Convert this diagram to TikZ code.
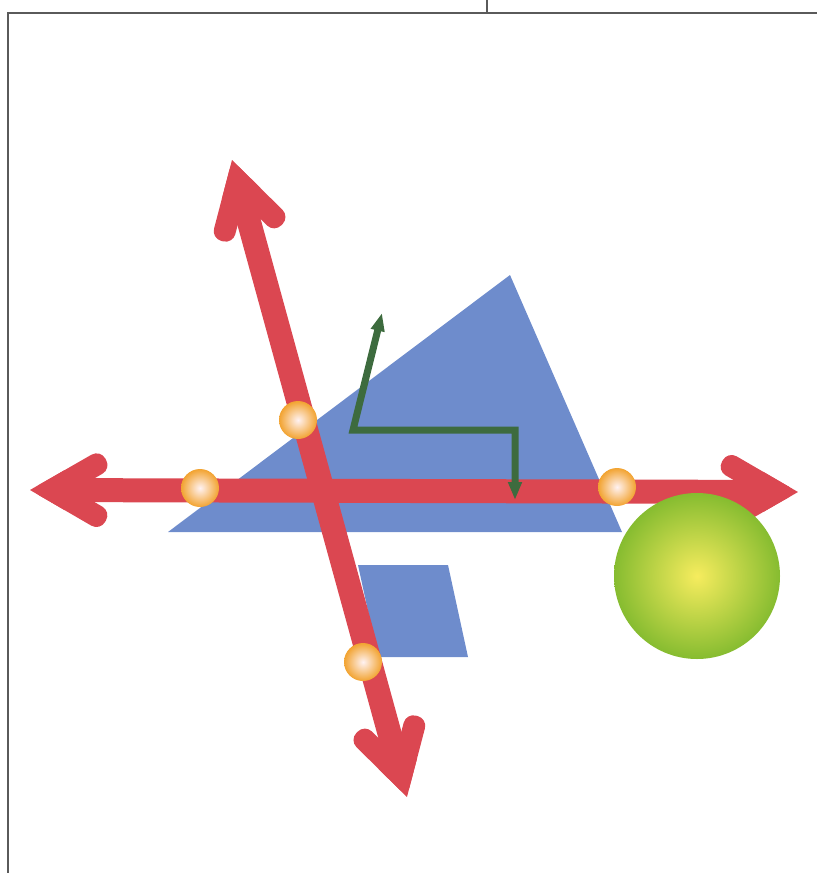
\documentclass[tikz,border=0pt]{standalone}
\usepackage{xcolor}
\usetikzlibrary{arrows.meta,calc}
\definecolor{AxisRed}{HTML}{DB4751}
\definecolor{PlaneBlue}{HTML}{6E8CCC}
\definecolor{PathGreen}{HTML}{3D6B3E}
\definecolor{BallGreen}{HTML}{86BC30}
\definecolor{BallYellow}{HTML}{F6EC5E}
\definecolor{BallOrange}{HTML}{F2A330}
\definecolor{FrameGray}{HTML}{5A5A5A}
\tikzset{
  frame/.style={draw=FrameGray,line width=2pt},
  plane/.style={fill=PlaneBlue},
  pics/axisarrow/.style={code={
    \fill[AxisRed] (40,-12) rectangle ({#1-40},12);
    % heads
    \fill[AxisRed,rounded corners=10pt] (0,0) -- (70.1,40.5) -- (81.1,21.5) -- (44,0)
      -- (81.1,-21.5) -- (70.1,-40.5) -- cycle;
    \fill[AxisRed,rounded corners=10pt] (#1,0) -- ({#1-70.1},40.5) -- ({#1-81.1},21.5) -- ({#1-44},0)
      -- ({#1-81.1},-21.5) -- ({#1-70.1},-40.5) -- cycle;
    % sharp tips
    \fill[AxisRed] (0,0) -- (34.6,20) -- (34.6,-20) -- cycle;
    \fill[AxisRed] (#1,0) -- ({#1-34.6},20) -- ({#1-34.6},-20) -- cycle;
  }},
  point/.style={circle,minimum size=38pt,inner sep=0pt,inner color=white!80!pink,outer color=BallOrange},
  sphere/.style={circle,minimum size=166pt,inner sep=0pt,inner color=BallYellow,outer color=BallGreen},
  route/.style={draw=PathGreen,line width=7pt,{Triangle[length=18pt,width=13pt]}-{Triangle[length=18pt,width=13pt]}}
}

\begin{document}
\begin{tikzpicture}[x=1pt,y=-1pt]
\useasboundingbox (0,0) rectangle (817,873);
% frame
\draw[frame] (8,873) -- (8,13) -- (817,13);
\draw[frame] (487,0) -- (487,13);

% planes
\fill[plane] (510,275) -- (622,532) -- (168,532) -- cycle;
\fill[plane] (358,565) -- (448,565) -- (468,657) -- (378,657) -- cycle;

% axes
\coordinate (ltip) at (30,490);
\coordinate (utip) at (232,160);
\pic[rotate=-0.15] at (ltip) {axisarrow=768};
\pic[rotate=-74.64] at (utip) {axisarrow=660.6};

% path
\coordinate (gtop) at (382,313);
\coordinate (gbend) at (353,430);
\coordinate (gturn) at (515,430);
\coordinate (gbot) at (515,500);
\draw[route] (gtop) -- (gbend) -- (gturn) -- (gbot);

\node[sphere] (globe) at (697,576) {};

\node[point] (p1) at (200,488) {};
\node[point] (p2) at (298,420) {};
\node[point] (p3) at (617,487) {};
\node[point] (p4) at (363,662) {};
\end{tikzpicture}
\end{document}
